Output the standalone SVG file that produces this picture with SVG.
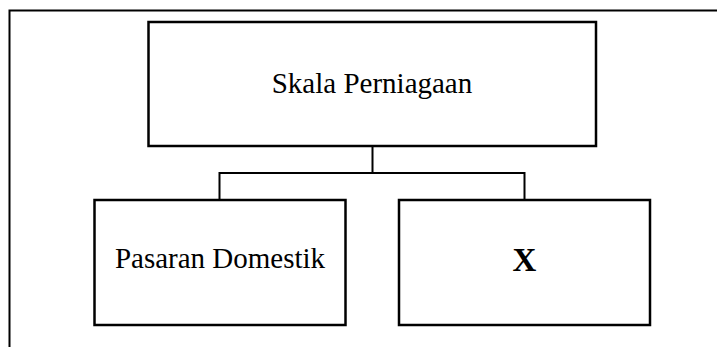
<svg xmlns="http://www.w3.org/2000/svg" width="717" height="347" viewBox="0 0 717 347">
<style>
.box{fill:#fff;stroke:#000;stroke-width:2.5}
.ln{fill:none;stroke:#000;stroke-width:2}
.t{font-family:"Liberation Serif","Times New Roman",serif;font-size:29px;fill:#000;text-anchor:middle}
.b{font-weight:bold;font-size:33px}
</style>
<rect width="717" height="347" fill="#fff"/>
<g id="frame"><path class="ln" d="M9.5,347 V10.5 H717" stroke-width="1.5"/></g>
<g id="connectors">
<path class="ln" d="M372.5,146 V173 M219.5,173 H524.5 M219.5,172 V200 M524.5,172 V200"/>
</g>
<g id="n-skala"><rect class="box" x="148.5" y="22" width="447.5" height="124"/><text class="t" x="372" y="93">Skala Perniagaan</text></g>
<g id="n-domestik"><rect class="box" x="94.5" y="200" width="251" height="125"/><text class="t" x="220" y="268">Pasaran Domestik</text></g>
<g id="n-x"><rect class="box" x="399" y="200" width="251" height="125"/><text class="t b" x="524.5" y="271">X</text></g>
</svg>
